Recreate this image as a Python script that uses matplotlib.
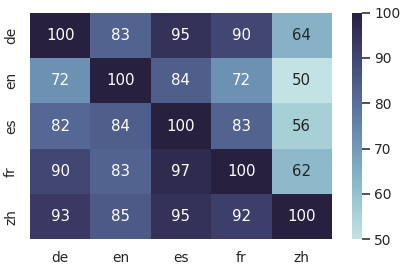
import matplotlib
matplotlib.use("Agg")
import matplotlib.pyplot as plt
import numpy as np
import pandas as pd
import seaborn as sns

langs = ["de", "en", "es", "fr", "zh"]

row_de = [100, 83, 95, 90, 64]
row_en = [72, 100, 84, 72, 50]
row_es = [82, 84, 100, 83, 56]
row_fr = [90, 83, 97, 100, 62]
row_zh = [93, 85, 95, 92, 100]

sns.set_theme(style="white")

scores = pd.DataFrame([row_de, row_en, row_es, row_fr, row_zh], index=langs, columns=langs)

# 407x270 px at 90 dpi
fig = plt.figure(figsize=(407 / 90, 270 / 90), dpi=90)
ax = fig.add_axes([0.0737, 0.1137, 0.742, 0.839])
cax = fig.add_axes([0.864, 0.1137, 0.026, 0.840])

cmap = sns.color_palette("ch:start=.2,rot=-.3", as_cmap=True)
sns.heatmap(scores, annot=True, fmt="d", cmap=cmap, vmin=50, vmax=100,
            ax=ax, cbar_ax=cax)

fig.savefig("out.png", dpi=90)
